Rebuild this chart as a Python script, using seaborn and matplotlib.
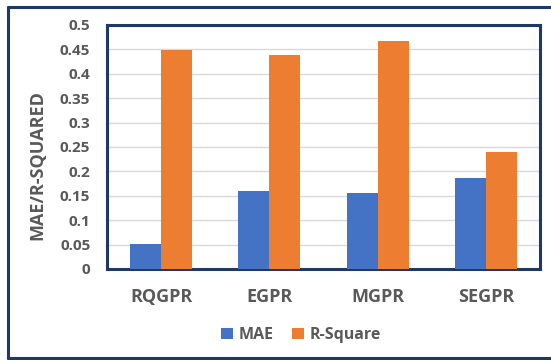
import matplotlib
matplotlib.use("Agg")
import matplotlib.pyplot as plt
from matplotlib.lines import Line2D
from matplotlib.patches import Patch
import seaborn as sns
import pandas as pd

models = ["RQGPR", "EGPR", "MGPR", "SEGPR"]
mae = [0.051, 0.159, 0.155, 0.187]
r_square = [0.449, 0.438, 0.468, 0.239]
series = ["MAE", "R-Square"]
y_ticks = [0, 0.05, 0.1, 0.15, 0.2, 0.25, 0.3, 0.35, 0.4, 0.45, 0.5]
y_tick_labels = ["0", "0.05", "0.1", "0.15", "0.2", "0.25", "0.3", "0.35", "0.4", "0.45", "0.5"]

df = pd.DataFrame({
    "Model": models * 2,
    "Metric": [series[0]] * len(models) + [series[1]] * len(models),
    "Value": mae + r_square,
})

sns.set_theme(style="white")
plt.rcParams["font.family"] = ["Open Sans", "DejaVu Sans"]

navy = "#1F3864"
gray = "#595959"
palette = {"MAE": "#4472C4", "R-Square": "#ED7D31"}

fig = plt.figure(figsize=(5.51, 3.6), dpi=100)
ax = fig.add_axes([107 / 551, 91 / 360, 433 / 551, 244 / 360])

sns.barplot(data=df, x="Model", y="Value", hue="Metric", palette=palette,
            width=0.574, gap=0, saturation=1, ax=ax, legend=False,
            edgecolor="none", zorder=3)

ax.set_ylim(0, 0.5)
ax.set_xlim(-0.5, len(models) - 0.5)
ax.set_yticks(y_ticks)
ax.set_yticklabels(y_tick_labels)
ax.yaxis.grid(True, color="#D9D9D9", linewidth=1.0, zorder=0)
ax.xaxis.grid(False)
ax.set_axisbelow(True)
ax.tick_params(axis="both", length=0)
ax.tick_params(axis="y", pad=12, labelsize=11, labelcolor=gray)
ax.tick_params(axis="x", pad=14, labelsize=13, labelcolor=gray)
for lbl in ax.get_xticklabels() + ax.get_yticklabels():
    lbl.set_fontweight("bold")

ax.set_xlabel("")
ax.set_ylabel("")
for sp in ax.spines.values():
    sp.set_visible(True)
    sp.set_color(navy)
    sp.set_linewidth(2.2)

fig.text(37 / 551, 1 - 165 / 360, "MAE/R-SQUARED", rotation=90, ha="center",
         va="center", fontsize=13, fontweight="bold", color=gray)

handles = [Patch(facecolor=palette[s], edgecolor="none", label=s) for s in series]
leg = fig.legend(handles=handles, loc="center", bbox_to_anchor=(301 / 551, 1 - 335 / 360),
                 ncol=2, frameon=False, handlelength=0.75, handleheight=0.75,
                 handletextpad=0.35, columnspacing=1.1,
                 prop={"size": 11.5, "weight": "bold"})
for t in leg.get_texts():
    t.set_color(gray)

# outer chart frame
frame_kw = dict(transform=fig.transFigure, color=navy, linewidth=2.2)
fig.lines.append(Line2D([8 / 551, 1.02], [1 - 7 / 360, 1 - 7 / 360], **frame_kw))
fig.lines.append(Line2D([8 / 551, 8 / 551], [1 - 7 / 360, 1 - 358 / 360], **frame_kw))
fig.lines.append(Line2D([8 / 551, 1.02], [1 - 358 / 360, 1 - 358 / 360], **frame_kw))

fig.savefig("out.png", dpi=100)
